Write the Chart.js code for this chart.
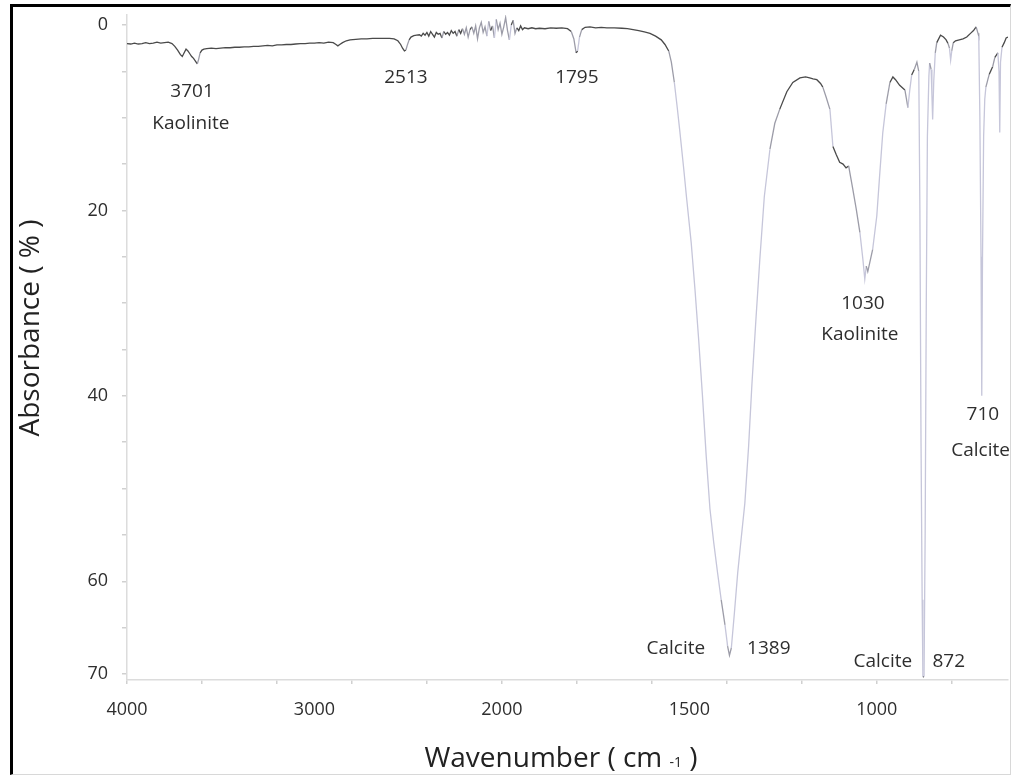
<!DOCTYPE html>
<html>
<head>
<meta charset="utf-8">
<script src="https://cdn.jsdelivr.net/npm/chart.js@4.4.1/dist/chart.umd.min.js"></script>
<style>
  html, body { margin: 0; padding: 0; background: #fff; }
  #wrap { position: relative; width: 1011px; height: 775px; overflow: hidden; }
  #frame { position: absolute; left: 10px; top: 4px; width: 1001px; height: 771px; box-sizing: border-box;
           border-top: 3px solid #000; border-left: 3px solid #000; border-right: 1px solid #d8d8d8; border-bottom: 1px solid #d8d8d8; }
  canvas { position: absolute; left: 0; top: 0; }
</style>
</head>
<body>
<div id="wrap">
  <div id="frame"></div>
  <canvas id="c" width="1011" height="775"></canvas>
</div>
<script>
// ---- Spectrum data (wavenumber in cm-1, absorbance in %) ----
const wavenumbers = [
  4000,3980,3960,3940,3920,3900,3880,3860,3840,3820,3800,3780,3760,3745,3730,3715,3705,3695,3685,3675,
  3665,3655,3645,3635,3625,3618,3610,3600,3590,3575,3550,3525,3500,3475,3450,3425,3400,3375,3350,3325,
  3300,3275,3250,3225,3200,3175,3150,3125,3100,3075,3050,3025,3000,2975,2950,2925,2900,2885,2875,2865,
  2850,2830,2810,2780,2750,2720,2690,2660,2630,2600,2575,2555,2540,2530,2520,2512,2505,2495,2485,2470,
  2455,2440,2430,2420,2410,2400,2390,2380,2370,2360,2350,2340,2330,2320,2310,2300,2290,2280,2270,2260,
  2250,2240,2230,2220,2210,2200,2190,2180,2170,2160,2150,2140,2130,2120,2110,2100,2090,2080,2070,2060,
  2050,2040,2030,2020,2010,2000,1995,1990,1985,1980,1975,1970,1965,1960,1955,1950,1945,1940,1930,1920,
  1910,1900,1885,1870,1855,1840,1825,1815,1808,1802,1798,1793,1787,1778,1765,1750,1735,1720,1700,1680,
  1665,1650,1635,1620,1605,1590,1575,1565,1555,1548,1540,1532,1525,1515,1507,1495,1485,1475,1465,1455,
  1445,1435,1425,1415,1405,1398,1393,1388,1380,1371,1362,1352,1342,1333,1322,1312,1300,1285,1272,1259,
  1240,1224,1205,1190,1179,1170,1160,1150,1144,1135,1125,1117,1108,1099,1090,1082,1075,1072,1064,1055,
  1045,1037,1032,1028,1024,1018,1011,1000,992,984,975,965,957,950,939,925,917,912,907,900,
  893,888,885,882,879,877,874,871,868,865,861,859,855,853,851,848,844,840,830,822,
  815,810,806,803,800,796,790,780,770,760,750,742,735,730,728,725,722,720,718,715,
  712,709,700,691,685,677,674,672,670,666,660,655,650
];
const absorbance = [
  2.0,2.05,1.95,2.05,2.0,1.9,2.0,1.95,1.85,1.95,1.9,1.85,2.0,2.3,2.7,3.2,3.4,3.0,2.6,2.8,
  3.1,3.4,3.6,3.9,4.2,3.7,3.0,2.7,2.6,2.55,2.5,2.55,2.5,2.45,2.45,2.4,2.4,2.35,2.35,2.3,
  2.3,2.25,2.2,2.25,2.15,2.15,2.1,2.1,2.05,2.0,2.0,1.95,1.95,1.9,1.95,1.85,1.9,2.1,2.25,2.1,
  1.9,1.7,1.6,1.55,1.5,1.5,1.45,1.45,1.45,1.45,1.5,1.7,2.1,2.5,2.8,2.7,2.2,1.6,1.3,1.15,
  1.1,1.05,1.2,0.9,1.1,0.8,1.2,0.7,1.0,1.3,0.8,1.0,0.9,1.4,0.7,1.0,0.8,1.1,0.6,0.9,
  0.7,1.2,0.5,0.9,0.4,1.0,0.3,1.3,0.5,0.2,0.9,0.1,1.5,0.3,-0.3,0.8,0.2,1.2,-0.4,0.6,
  0.1,1.4,-0.6,0.5,-0.2,1.0,0.2,-0.8,0.6,1.6,0.0,-0.5,0.9,0.3,0.6,0.1,0.5,0.3,0.4,0.3,
  0.4,0.35,0.4,0.3,0.35,0.3,0.4,0.7,1.5,3.0,2.8,1.3,0.5,0.25,0.2,0.3,0.25,0.3,0.3,0.35,
  0.4,0.5,0.6,0.75,0.9,1.2,1.6,2.1,2.8,4.0,6.2,9.0,11.6,15.5,18.8,23.5,28.5,34.0,40.0,46.5,
  52.2,55.8,59.0,62.0,64.7,67.0,68.0,67.2,63.5,59.1,55.5,51.6,45.5,38.7,31.5,25.3,18.5,13.4,10.6,9.1,
  7.2,6.2,5.7,5.6,5.7,5.8,5.9,6.3,6.7,7.8,9.1,13.1,14.0,14.8,15.0,15.4,15.2,15.9,17.7,19.8,
  22.4,25.3,27.4,26.0,26.6,25.5,24.2,20.6,16.0,11.6,8.5,6.2,5.6,5.9,6.5,7.0,8.9,7.0,5.4,4.8,
  4.0,5.0,20.0,45.0,62.0,70.3,70.3,55.0,30.0,12.0,5.5,4.1,4.8,7.5,10.2,6.0,3.0,1.9,1.1,1.3,
  1.6,2.0,2.5,3.8,2.8,1.9,1.7,1.6,1.5,1.3,0.9,0.6,0.2,0.9,1.2,10.0,25.0,40.0,25.0,12.0,
  8.0,6.7,5.3,4.5,3.5,3.0,5.0,11.6,4.0,2.4,1.9,1.4,1.3
];

// ---- Axis tick labels ----
const xTickLabels = [4000, 3000, 2000, 1500, 1000];
const yTickLabels = [0, 20, 40, 60, 70];

// ---- Peak annotations ----
const annoTexts = ['3701', 'Kaolinite', '2513', '1795', '1030', 'Kaolinite', '710', 'Calcite', 'Calcite', '1389', 'Calcite', '872'];
const annoWave  = [3653, 3659, 2512, 1800, 1037, 1045, 717, 723, 1536, 1288, 984, 808];
const annoAbs   = [7.2, 10.6, 5.7, 5.7, 30.0, 33.4, 42.0, 45.9, 67.3, 67.3, 68.7, 68.7];

// Wavenumber axis with scale change at 2000 cm-1 (FTIR convention)
function toU(w) { return w >= 2000 ? (4000 - w) / 2 : 1000 + (2000 - w); }
function fromU(u) { return u <= 1000 ? 4000 - 2 * u : 3000 - u; }

const points = wavenumbers.map((w, i) => ({ x: toU(w), y: absorbance[i] }));

const FONT = "'Open Sans', 'Noto Sans', sans-serif";
const TXT = '#2e2e2e';

const annotationPlugin = {
  id: 'peakLabels',
  afterDatasetsDraw(chart) {
    const { ctx, scales } = chart;
    ctx.save();
    ctx.font = '19px ' + FONT;
    ctx.fillStyle = TXT;
    ctx.textAlign = 'center';
    ctx.textBaseline = 'middle';
    annoTexts.forEach((t, i) => {
      ctx.fillText(t, scales.x.getPixelForValue(toU(annoWave[i])), scales.y.getPixelForValue(annoAbs[i]));
    });
    ctx.restore();
  }
};

const titlesPlugin = {
  id: 'axisTitles',
  afterDraw(chart) {
    const { ctx } = chart;
    ctx.save();
    ctx.fillStyle = '#222';
    ctx.font = '28px ' + FONT;
    ctx.translate(31, 328);
    ctx.rotate(-Math.PI / 2);
    ctx.textAlign = 'center';
    ctx.textBaseline = 'middle';
    ctx.fillText('Absorbance ( % )', 0, 0);
    ctx.restore();

    ctx.save();
    ctx.fillStyle = '#222';
    ctx.textBaseline = 'alphabetic';
    ctx.textAlign = 'left';
    const big = '28px ' + FONT, small = '14px ' + FONT;
    const p1 = 'Wavenumber ( cm ', p2 = '-1', p3 = ' )';
    ctx.font = big; const w1 = ctx.measureText(p1).width; const w3 = ctx.measureText(p3).width;
    ctx.font = small; const w2 = ctx.measureText(p2).width;
    let x = 561 - (w1 + w2 + w3) / 2;
    const base = 767;
    ctx.font = big; ctx.fillText(p1, x, base); x += w1;
    ctx.font = small; ctx.fillText(p2, x, base); x += w2;
    ctx.font = big; ctx.fillText(p3, x, base);
    ctx.restore();
  }
};

function segColor(ctx) {
  const dx = Math.max(Math.abs(ctx.p1.x - ctx.p0.x), 0.01);
  const s = Math.abs(ctx.p1.y - ctx.p0.y) / dx;
  if (s > 7) return '#c6c6da';
  if (s > 2.5) return '#9c9ca8';
  return '#4a4a4a';
}

new Chart(document.getElementById('c'), {
  type: 'line',
  data: {
    datasets: [{
      data: points,
      borderColor: '#4a4a4a',
      borderWidth: 1.3,
      pointRadius: 0,
      tension: 0,
      segment: { borderColor: segColor }
    }]
  },
  options: {
    responsive: false,
    animation: false,
    events: [],
    layout: { padding: { top: 15, right: 3, left: 0, bottom: 0 } },
    plugins: { legend: { display: false }, tooltip: { enabled: false } },
    scales: {
      x: {
        type: 'linear',
        min: 0,
        max: 2350,
        afterBuildTicks(scale) {
          const t = [];
          for (let u = 0; u <= 2300; u += 100) t.push({ value: u });
          scale.ticks = t;
        },
        afterFit(scale) { scale.height = 95; scale.paddingLeft = 0; scale.paddingRight = 0; },
        ticks: {
          autoSkip: false,
          maxRotation: 0,
          padding: 15,
          color: TXT,
          font: { family: FONT, size: 18 },
          callback(v) {
            const w = fromU(v);
            return xTickLabels.includes(w) ? String(w) : '';
          }
        },
        grid: {
          drawOnChartArea: false,
          drawTicks: true,
          tickLength: 4,
          lineWidth: 1.5,
          tickColor: ctx => (ctx.tick && ctx.tick.value % 200 === 0) ? '#d0d0d0' : 'rgba(0,0,0,0)'
        },
        border: { display: true, color: '#dcdcdc', width: 1.5 }
      },
      y: {
        type: 'linear',
        reverse: true,
        min: -1.08,
        max: 70.65,
        afterBuildTicks(scale) {
          const t = [];
          for (let v = 0; v <= 70; v += 5) t.push({ value: v });
          scale.ticks = t;
        },
        afterFit(scale) { scale.width = 127; scale.paddingTop = 0; scale.paddingBottom = 0; },
        ticks: {
          autoSkip: false,
          padding: 14,
          color: TXT,
          font: { family: FONT, size: 18 },
          callback(v) { return yTickLabels.includes(v) ? String(v) : ''; }
        },
        grid: {
          drawOnChartArea: false,
          drawTicks: true,
          tickLength: 5,
          lineWidth: 1.5,
          tickColor: '#d0d0d0'
        },
        border: { display: true, color: '#dcdcdc', width: 1.5 }
      }
    }
  },
  plugins: [annotationPlugin, titlesPlugin]
});
</script>
</body>
</html>
